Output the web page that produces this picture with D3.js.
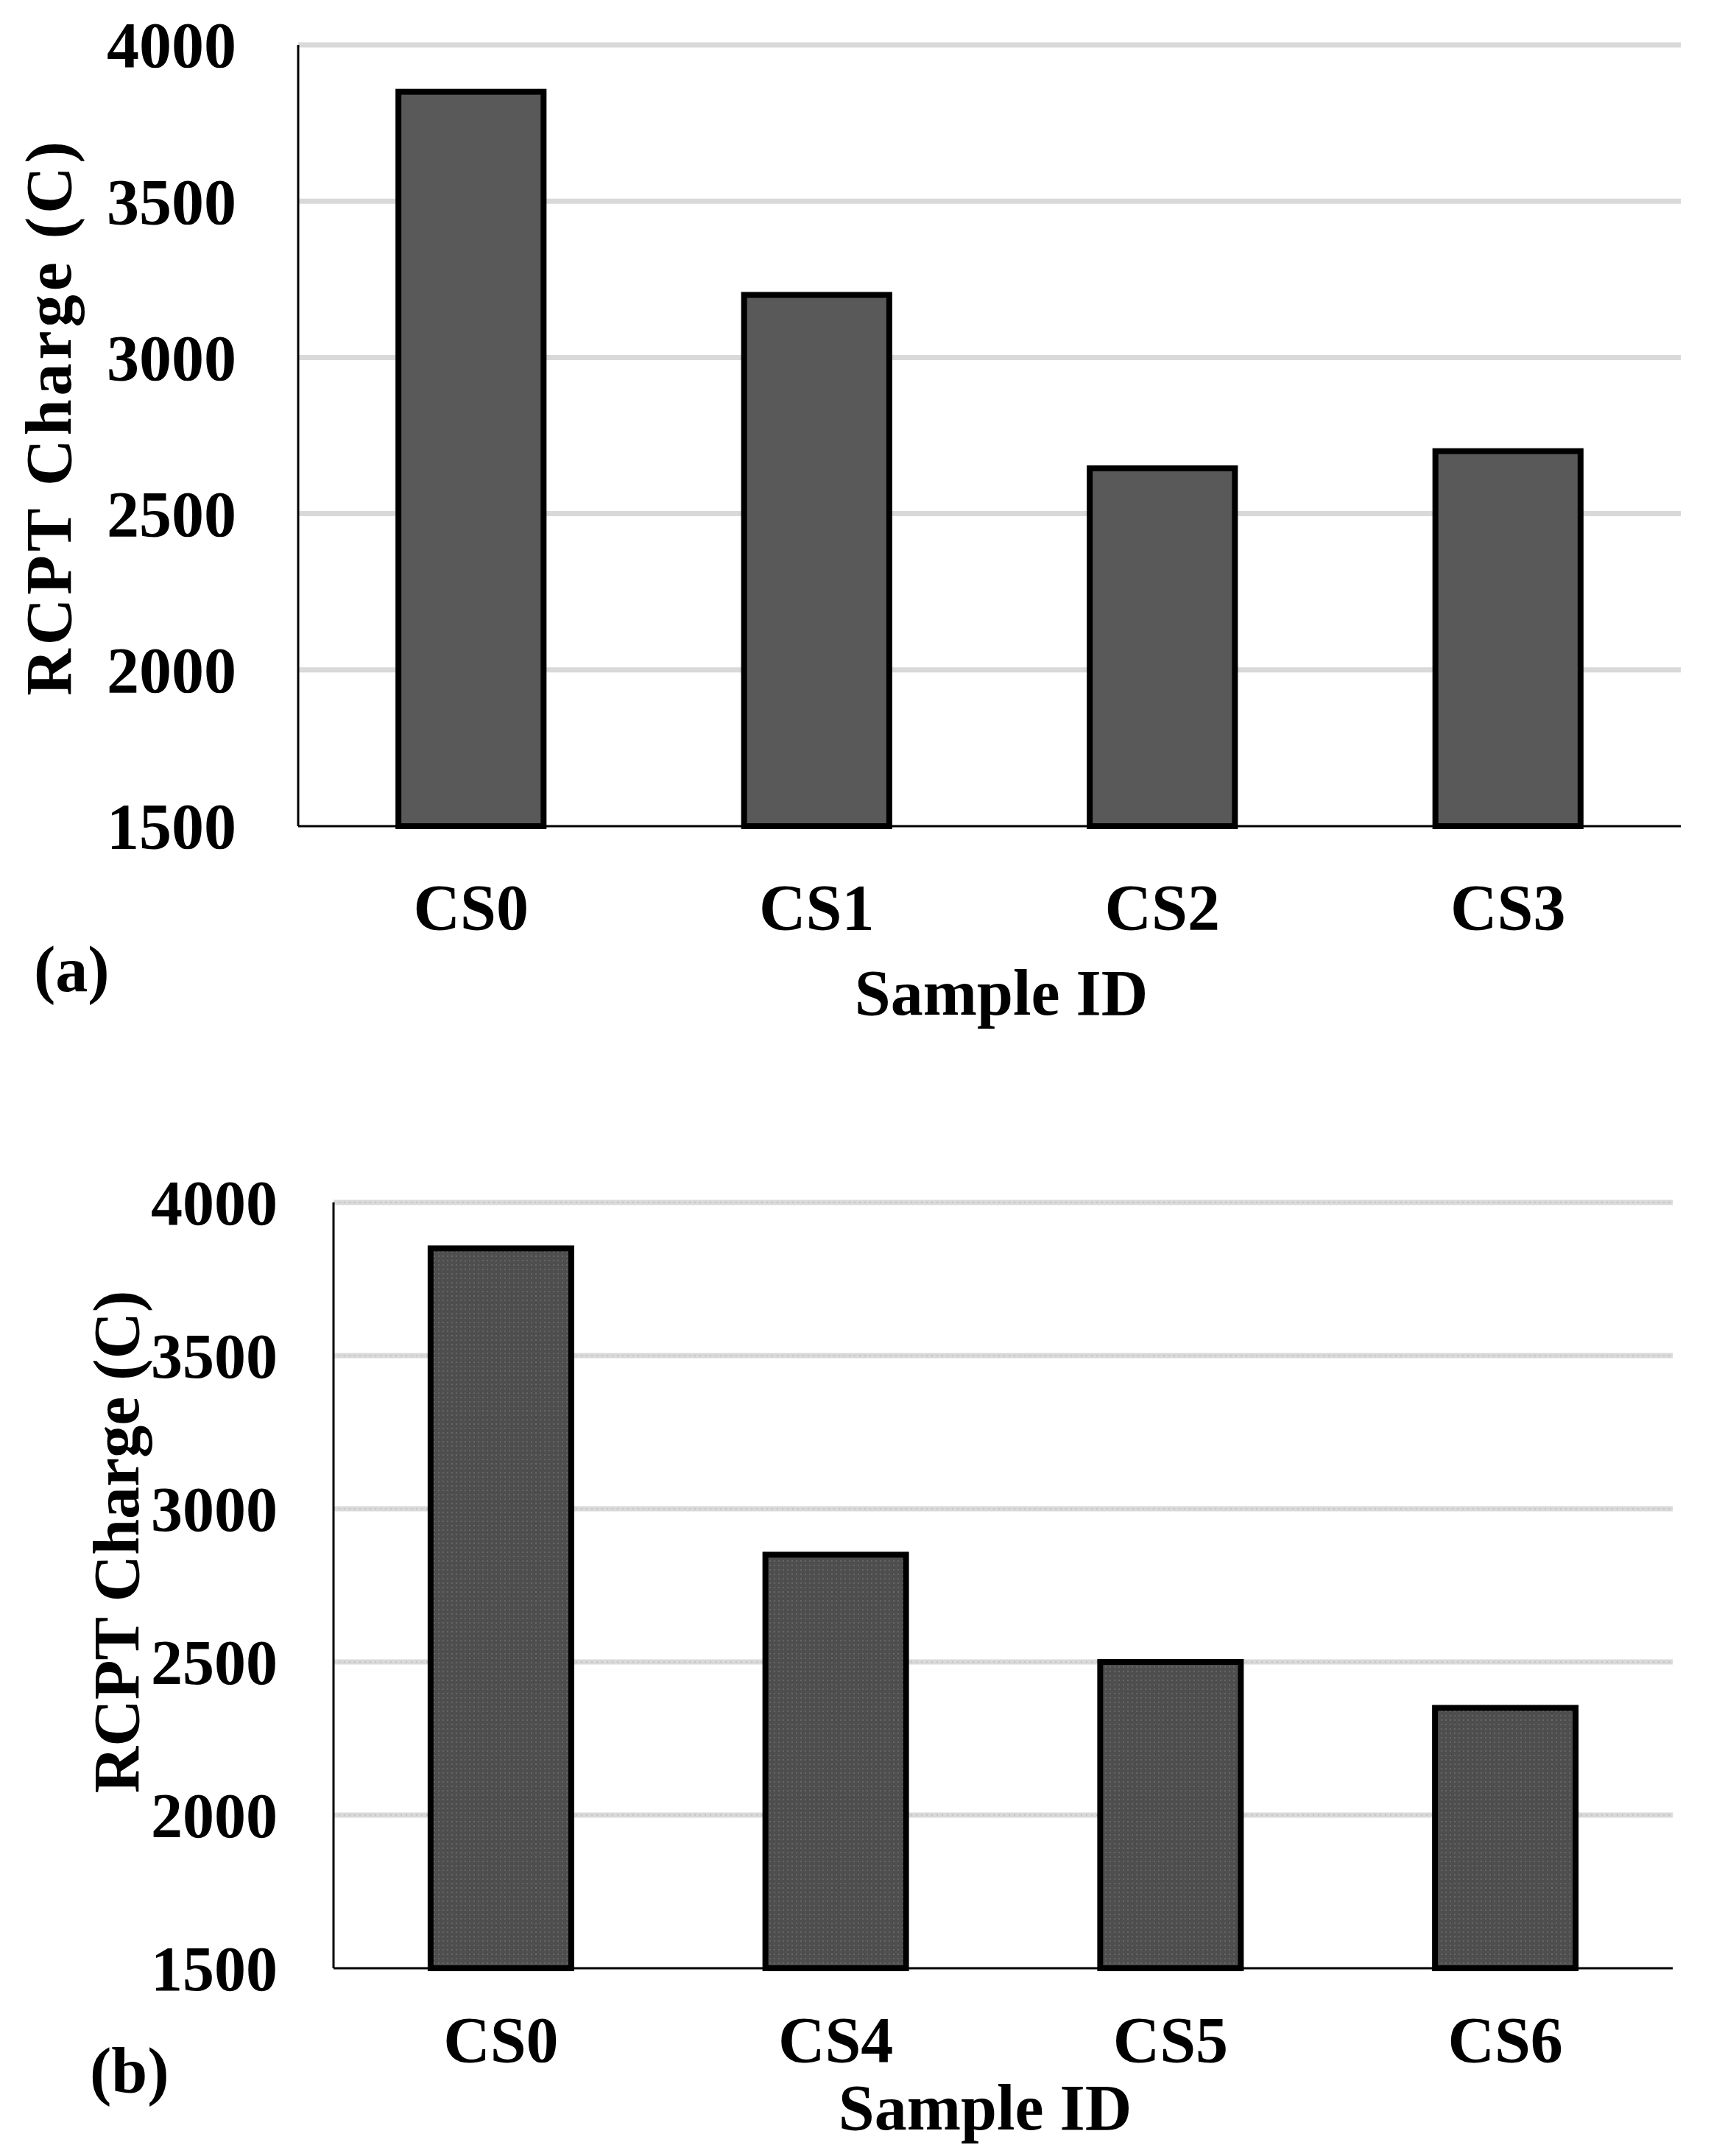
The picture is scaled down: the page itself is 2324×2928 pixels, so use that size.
<!DOCTYPE html>
<html>
<head>
<meta charset="utf-8">
<script src="https://cdnjs.cloudflare.com/ajax/libs/d3/7.8.5/d3.min.js"></script>
<style>
  body { margin: 0; background: #fff; }
  text { font-family: "Liberation Serif", "Times New Roman", serif; font-weight: bold; fill: #000; }
</style>
</head>
<body>
<div id="chart"></div>
<script>
// data
var catsA = ["CS0", "CS1", "CS2", "CS3"];
var valsA = [3850, 3200, 2645, 2700];
var catsB = ["CS0", "CS4", "CS5", "CS6"];
var valsB = [3850, 2850, 2500, 2350];
var yTicks = [1500, 2000, 2500, 3000, 3500, 4000];
var yDomain = [1500, 4000];

var svg = d3.select("#chart").append("svg")
    .attr("width", 2324)
    .attr("height", 2928);

svg.append("rect").attr("width", 2324).attr("height", 2928).attr("fill", "#fff");

// dotted fill used in panel (b)
var defs = svg.append("defs");
var pat = defs.append("pattern")
    .attr("id", "dots")
    .attr("width", 6).attr("height", 6)
    .attr("patternUnits", "userSpaceOnUse");
pat.append("rect").attr("width", 6).attr("height", 6).attr("fill", "#4e4e4e");
pat.append("rect").attr("x", 1).attr("y", 1).attr("width", 2).attr("height", 2).attr("fill", "#666");

function drawPanel(p) {
  var x = d3.scaleBand()
      .domain(p.cats)
      .range([p.left, p.right])
      .paddingInner(0.58)
      .paddingOuter(0.29);
  var y = d3.scaleLinear()
      .domain(yDomain)
      .range([p.bottom, p.top]);

  var g = svg.append("g");

  // gridlines
  g.selectAll(".grid")
    .data(yTicks.slice(1))
    .enter().append("line")
      .attr("x1", p.left).attr("x2", p.right)
      .attr("y1", function(d) { return y(d); })
      .attr("y2", function(d) { return y(d); })
      .style("stroke", "#d9d9d9")
      .style("stroke-width", 7);
  if (p.dotted) {
    g.selectAll(".griddots")
      .data(yTicks.slice(1))
      .enter().append("line")
        .attr("x1", p.left).attr("x2", p.right)
        .attr("y1", function(d) { return y(d); })
        .attr("y2", function(d) { return y(d); })
        .style("stroke", "#c4c4c4")
        .style("stroke-width", 2)
        .style("stroke-dasharray", "2,5");
  }

  // y tick labels
  var yAxis = g.append("g")
      .attr("transform", "translate(" + p.left + ",0)")
      .call(d3.axisLeft(y).tickValues(yTicks).tickSize(0).tickPadding(p.tickPad).tickFormat(d3.format("d")));
  yAxis.select(".domain").remove();
  yAxis.selectAll("text")
      .style("font-size", p.tickFont + "px")
      .style("font-family", "Liberation Serif")
      .style("font-weight", "bold")
      .attr("dy", "0.34em");

  // bars
  g.selectAll(".bar")
    .data(p.vals)
    .enter().append("rect")
      .attr("x", function(d, i) { return x(p.cats[i]); })
      .attr("y", function(d) { return y(d); })
      .attr("width", x.bandwidth())
      .attr("height", function(d) { return p.bottom - y(d); })
      .attr("fill", p.dotted ? "url(#dots)" : "#595959")
      .style("stroke", "#000")
      .style("stroke-width", 8);

  // axis lines
  g.append("line")
      .attr("x1", p.left).attr("x2", p.left)
      .attr("y1", p.top).attr("y2", p.bottom)
      .style("stroke", "#000").style("stroke-width", 3);
  g.append("line")
      .attr("x1", p.left).attr("x2", p.right)
      .attr("y1", p.bottom).attr("y2", p.bottom)
      .style("stroke", "#000").style("stroke-width", 3);

  // x labels
  var xAxis = g.append("g")
      .attr("transform", "translate(0," + p.bottom + ")")
      .call(d3.axisBottom(x).tickSize(0).tickPadding(0));
  xAxis.select(".domain").remove();
  xAxis.selectAll("text")
      .attr("y", p.xLabelY - p.bottom)
      .attr("dy", 0)
      .style("font-size", p.xFont + "px")
      .style("font-family", "Liberation Serif")
      .style("font-weight", "bold");

  // titles
  g.append("text")
      .attr("transform", "translate(" + p.yTitleX + "," + p.yTitleY + ") rotate(-90)")
      .attr("text-anchor", "middle")
      .style("font-size", p.titleFont + "px")
      .style("letter-spacing", p.titleSpacing + "px")
      .text("RCPT Charge (C)");
  g.append("text")
      .attr("x", p.xTitleX).attr("y", p.xTitleY)
      .attr("text-anchor", "middle")
      .style("font-size", p.titleFont + "px")
      .text("Sample ID");
  g.append("text")
      .attr("x", p.tagX).attr("y", p.tagY)
      .style("font-size", p.titleFont + "px")
      .text(p.tag);
}

drawPanel({
  cats: catsA, vals: valsA, dotted: false,
  left: 405, right: 2283, top: 61, bottom: 1122,
  tickFont: 88, tickPad: 84, xFont: 88, xLabelY: 1262,
  titleFont: 88, titleSpacing: 5,
  yTitleX: 96, yTitleY: 566,
  xTitleX: 1360, xTitleY: 1378,
  tag: "(a)", tagX: 46, tagY: 1346
});

drawPanel({
  cats: catsB, vals: valsB, dotted: true,
  left: 453, right: 2272, top: 1633, bottom: 2673,
  tickFont: 86, tickPad: 76, xFont: 88, xLabelY: 2800,
  titleFont: 88, titleSpacing: 0,
  yTitleX: 188, yTitleY: 2094,
  xTitleX: 1338, xTitleY: 2892,
  tag: "(b)", tagX: 122, tagY: 2842
});
</script>
</body>
</html>
